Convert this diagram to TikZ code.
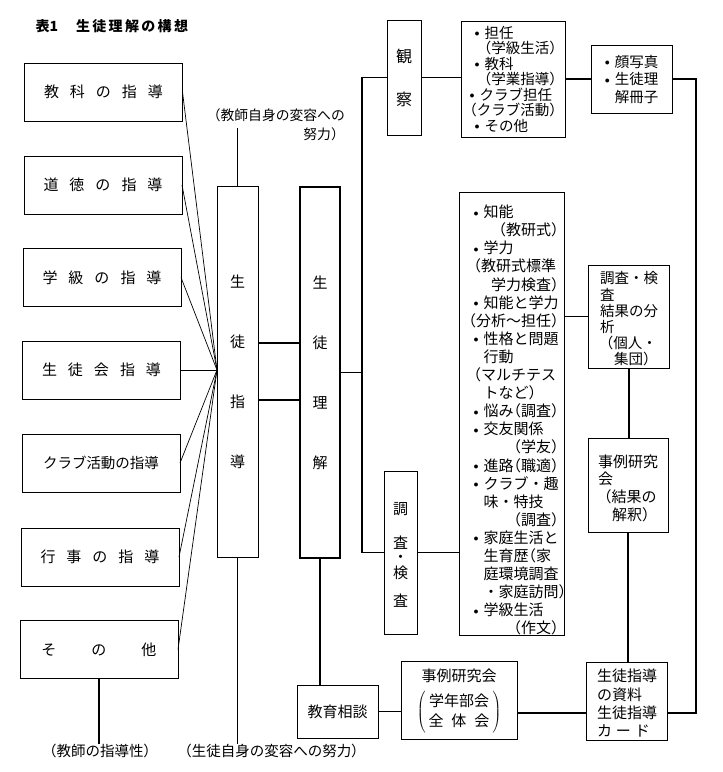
\documentclass[tikz,border=0pt]{standalone}
\usepackage{fontspec}
\setmainfont{Noto Sans CJK JP}
\newcommand\lp{\makebox[0.5em][r]{（}}
\newcommand\rp{\makebox[0.5em][l]{）}}
\newcommand\bul{\makebox[10pt][l]{\raisebox{1.5pt}{\fontsize{10}{10}\selectfont$\bullet$}}}
\newcommand\bi{\hspace*{3pt}\bul}
\newcommand\ind{\hspace*{13pt}}
\newcommand\five[5]{#1\hspace{11pt}#2\hspace{11pt}#3\hspace{11pt}#4\hspace{11pt}#5}
\newcommand\Cl[1]{\makebox[94pt][r]{\makebox[88pt][l]{#1}}}
\newcommand\Cr[1]{\makebox[94pt][r]{\makebox[88pt][r]{#1}}}
\newcommand\Tl[1]{\makebox[87pt][l]{#1}}
\newcommand\Tr[1]{\makebox[87pt][r]{#1}}
\begin{document}
\begin{tikzpicture}[x=1pt,y=-1pt,
  box/.style={draw, line width=0.8pt, inner sep=0pt, outer sep=0pt},
  conn/.style={line width=1.6pt},
  fan/.style={line width=0.7pt},
  lbox/.style={box, minimum width=158pt, minimum height=58pt, font=\fontsize{15}{18}\selectfont},
  vbox/.style={box, align=center},
  lst/.style={box, align=left}]
\useasboundingbox (0,0) rectangle (723,772);
% title
\node[anchor=west, font=\fontsize{14}{16}\selectfont\bfseries] (title) at (32,26) {表1\hspace{18pt}生\,徒\,理\,解\,の\,構\,想};
% left column
\node[lbox] (L1) at (103.5,92) {\five{教}{科}{の}{指}{導}};
\node[lbox] (L2) at (103,185) {\five{道}{徳}{の}{指}{導}};
\node[lbox] (L3) at (102,277.5) {\five{学}{級}{の}{指}{導}};
\node[lbox] (L4) at (101.5,370) {\five{生}{徒}{会}{指}{導}};
\node[lbox, font=\fontsize{14.5}{18}\selectfont] (L5) at (101,463) {クラブ活動の指導};
\node[lbox] (L6) at (100,557) {\five{行}{事}{の}{指}{導}};
\node[lbox] (L7) at (99,649.5) {そ\hspace{35pt}の\hspace{35pt}他};
% central vertical boxes
\node[vbox, minimum width=41pt, minimum height=371pt, font=\fontsize{15}{60}\selectfont] (SG) at (237.5,371.5) {生\\徒\\指\\導};
\node[vbox, line width=2pt, minimum width=40pt, minimum height=371pt, font=\fontsize{15}{60}\selectfont] (SR) at (320,372.5) {生\\徒\\理\\解};
% fan
\coordinate (F) at (217,370);
\foreach \n in {L1,L2,L3,L4,L5,L6,L7} \draw[fan] (\n.east) -- (F);
% labels
\node[anchor=north east, align=right, inner sep=0pt, font=\fontsize{13.8}{19}\selectfont] (lt) at (345,108) {（教師自身の変容への\\努力）};
\coordinate (ltb) at (237.5,128);
\node[font=\fontsize{14.5}{16}\selectfont, inner sep=0pt] (lb1) at (100,751) {（教師の指導性）};
\node[font=\fontsize{14.5}{16}\selectfont, inner sep=0pt] (lb2) at (271.5,751) {（生徒自身の変容への努力）};
% right side boxes
\node[vbox, minimum width=34pt, minimum height=115pt, font=\fontsize{16}{43}\selectfont] (K) at (404,77.5) {観\\察};
\node[lst, minimum width=104pt, minimum height=116pt, font=\fontsize{14.5}{15.5}\selectfont] (T) at (513,79) {%
\Tl{\hspace*{5pt}\bul 担任}\\
\Tr{\lp 学級生活\rp}\\
\Tl{\hspace*{5pt}\bul 教科}\\
\Tr{\lp 学業指導\rp}\\
\Tl{\bul クラブ担任}\\
\Tl{\lp クラブ活動\rp}\\
\Tl{\hspace*{5pt}\bul その他}};
\node[lst, minimum width=81pt, minimum height=68pt, font=\fontsize{14.5}{17.5}\selectfont] (KA) at (631.5,79) {%
\bul 顔写真\\ \bul 生徒理\\ \hspace*{10pt}解冊子};
\node[lst, minimum width=105pt, minimum height=442pt, font=\fontsize{15}{18.1}\selectfont] (C) at (511.5,414) {%
\Cl{\rule{0pt}{25pt}\bi 知能}\\
\Cr{\lp 教研式\rp}\\
\Cl{\bi 学力}\\
\Cl{\hspace*{3pt}\lp 教研式標準}\\
\Cr{学力検査\rp}\\
\Cl{\bi 知能と学力}\\
\Cr{\lp 分析〜担任\rp}\\
\Cl{\bi 性格と問題}\\
\Cl{\ind 行動}\\
\Cl{\hspace*{3pt}\lp マルチテス}\\
\Cl{\ind トなど\rp}\\
\Cl{\bi 悩み\lp 調査\rp}\\
\Cl{\bi 交友関係}\\
\Cr{\lp 学友\rp}\\
\Cl{\bi 進路\lp 職適\rp}\\
\Cl{\bi クラブ・趣}\\
\Cl{\ind 味・特技}\\
\Cr{\lp 調査\rp}\\
\Cl{\bi 家庭生活と}\\
\Cl{\ind 生育歴\lp 家}\\
\Cl{\ind 庭環境調査}\\
\Cl{\ind ・家庭訪問\rp}\\
\Cl{\bi 学級生活}\\
\Cr{\lp 作文\rp}};
\node[lst, minimum width=81pt, minimum height=103pt, font=\fontsize{14.5}{16.2}\selectfont] (B) at (629,316.5) {%
\rule{0pt}{17pt}調査・検\\査\\結果の分\\析\\ \hspace*{6pt}\lp 個人・\\ \hspace*{14pt}集団\rp};
\node[lst, minimum width=80pt, minimum height=94pt, font=\fontsize{15}{17.7}\selectfont] (J) at (628,485) {%
\rule{0pt}{19pt}事例研究\\会\\ \hspace*{6pt}\lp 結果の\\ \hspace*{14pt}解釈\rp};
\node[vbox, minimum width=33pt, minimum height=163pt, font=\fontsize{15}{15}\selectfont] (CK) at (400.5,552.5) {\rule{0pt}{16pt}調\\[19pt]査\\[-1pt]・\\[1pt]検\\[13pt]査};
\node[box, minimum width=81pt, minimum height=53pt, font=\fontsize{15}{18}\selectfont] (KS) at (337.5,711.5) {教育相談};
\node[box, minimum width=116pt, minimum height=78pt, font=\fontsize{15}{20}\selectfont] (J2) at (459,700) {%
\begin{tabular}{@{}c@{}}事例研究会\\[4pt]
$\left(\vcenter{\hbox{\hspace{3pt}\begin{tabular}{@{}c@{}}学年部会\\全\hspace{8pt}体\hspace{8pt}会\end{tabular}\hspace{3pt}}}\right)$\end{tabular}};
\node[lst, minimum width=81pt, minimum height=78pt, font=\fontsize{15}{18.3}\selectfont] (SH) at (627,701) {%
\rule{0pt}{17pt}生徒指導\\の資料\\生徒指導\\カ\hspace{4pt}ー\hspace{4pt}ド};
% connectors
\draw[conn] (SG.north) -- (ltb);
\draw[conn] (L7.south) -- (L7.south |- lb1.north);
\draw[conn] (SG.south) -- (SG.south |- lb2.north);
\coordinate (ya) at (0,343);
\coordinate (yb) at (0,400);
\draw[conn] (SG.east |- ya) -- (SR.west |- ya);
\draw[conn] (SG.east |- yb) -- (SR.west |- yb);
\coordinate (spx) at (362,0);
\draw[conn] (SR.east) -- (SR.east -| spx);
\draw[conn] (K.west) -- (K.west -| spx) |- (CK.west);
\draw[conn] (K.east) -- (K.east -| T.west);
\draw[conn] (T.east) -- (T.east -| KA.west);
\coordinate (rc) at (696,713);
\draw[conn] (KA.east) -| (rc) -- (rc -| SH.east);
\draw[conn] (B.west -| C.east) -- (B.west);
\draw[conn] (CK.east) -- (CK.east -| C.west);
\draw[conn] (B.south) -- (B.south |- J.north);
\draw[conn] (J.south) -- (J.south |- SH.north);
\draw[conn] (SR.south) -- (SR.south |- KS.north);
\draw[conn] (KS.east) -- (KS.east -| J2.west);
\draw[conn] (J2.east |- rc) -- (SH.west |- rc);
\end{tikzpicture}
\end{document}
